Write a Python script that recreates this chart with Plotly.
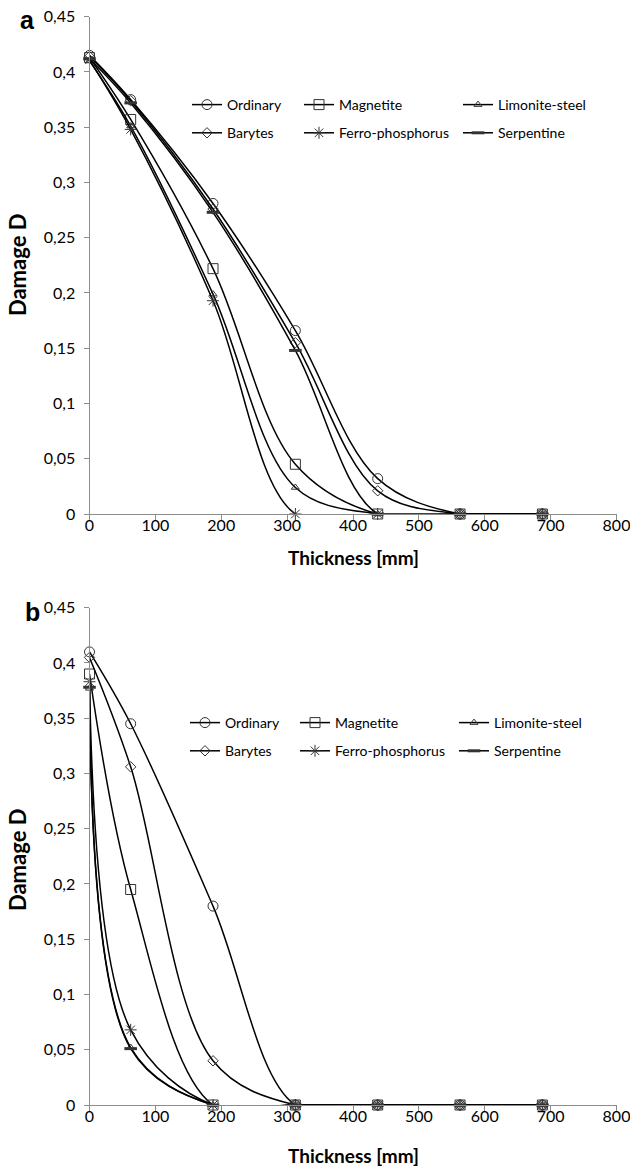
import plotly.graph_objects as go

# ---------------- data ----------------
thickness = [0, 62.5, 187.5, 312.5, 437.5, 562.5, 687.5]
series_names = ["Ordinary", "Magnetite", "Limonite-steel", "Barytes", "Ferro-phosphorus", "Serpentine"]

# panel a
ordinary_a = [0.415, 0.375, 0.281, 0.166, 0.032, 0, 0]
magnetite_a = [0.413, 0.357, 0.222, 0.045, 0, 0, 0]
limonite_a = [0.410, 0.351, 0.199, 0.024, 0, 0, 0]
barytes_a = [0.414, 0.374, 0.276, 0.155, 0.021, 0, 0]
ferro_a = [0.411, 0.348, 0.193, 0, 0, 0, 0]
serpentine_a = [0.412, 0.372, 0.273, 0.148, 0, 0, 0]

# panel b
ordinary_b = [0.410, 0.345, 0.180, 0, 0, 0, 0]
magnetite_b = [0.390, 0.195, 0, 0, 0, 0, 0]
limonite_b = [0.377, 0.052, 0, 0, 0, 0, 0]
barytes_b = [0.405, 0.306, 0.040, 0, 0, 0, 0]
ferro_b = [0.383, 0.068, 0, 0, 0, 0, 0]
serpentine_b = [0.378, 0.051, 0, 0, 0, 0, 0]

x_ticks = [0, 100, 200, 300, 400, 500, 600, 700, 800]
y_ticks = [0, 0.05, 0.1, 0.15, 0.2, 0.25, 0.3, 0.35, 0.4, 0.45]

# ---------------- style ----------------
W, H = 630, 1167
FONT = "Lato, 'Open Sans', sans-serif"
symbols = {
    "Ordinary": ("circle-open", 10, 1.0),
    "Magnetite": ("square-open", 10, 1.0),
    "Limonite-steel": ("triangle-up-open", 7, 1.0),
    "Barytes": ("diamond-open", 8, 1.0),
    "Ferro-phosphorus": ("asterisk-open", 10, 1.0),
    "Serpentine": ("line-ew-open", 9, 3.0),
}
# legend column for each series (0,1,2)
legend_col = {"Ordinary": 0, "Barytes": 0, "Magnetite": 1, "Ferro-phosphorus": 1,
              "Limonite-steel": 2, "Serpentine": 2}

fig = go.Figure()

panels = [
    ("x", "y", [ordinary_a, magnetite_a, limonite_a, barytes_a, ferro_a, serpentine_a], 0),
    ("x2", "y2", [ordinary_b, magnetite_b, limonite_b, barytes_b, ferro_b, serpentine_b], 3),
]
for xa, ya, vals, leg_off in panels:
    for name, v in zip(series_names, vals):
        sym, sz, lw = symbols[name]
        li = leg_off + legend_col[name] + 1
        legend_id = "legend" if li == 1 else f"legend{li}"
        fig.add_trace(go.Scatter(
            x=thickness, y=v, name=name, xaxis=xa, yaxis=ya,
            mode="lines+markers",
            line=dict(color="black", width=1.5, shape="spline", smoothing=1.0),
            marker=dict(symbol=sym, size=sz, color="#333333", line=dict(color="#333333", width=lw)),
            legend=legend_id, legendgroup=f"{xa}-{name}",
            cliponaxis=False, showlegend=True,
        ))

def px_x(p):
    return p / W

def px_y(p):
    return 1 - p / H

xdom = [px_x(89.5), px_x(616.5)]
ya_dom = [px_y(514), px_y(16.7)]
yb_dom = [px_y(1105), px_y(607.7)]

axis_common = dict(
    showline=True, linecolor="#8c8c8c", linewidth=1,
    ticks="outside", ticklen=5, tickcolor="#8c8c8c", tickwidth=1,
    showgrid=False, zeroline=False, automargin=False,
    tickfont=dict(family=FONT, size=16, color="black"),
    ticklabeloverflow="allow",
)
x_common = dict(domain=xdom, range=[0, 800], tickvals=x_ticks, ticklabelstandoff=-8, **axis_common)
y_common = dict(range=[0, 0.45], tickvals=y_ticks, ticklabelstandoff=5, **axis_common)

fig.update_layout(
    width=W, height=H,
    margin=dict(l=0, r=0, t=0, b=0, autoexpand=False),
    paper_bgcolor="white", plot_bgcolor="white",
    separators=", ",
    font=dict(family=FONT, color="black"),
    xaxis=dict(anchor="y", **x_common),
    yaxis=dict(domain=ya_dom, anchor="x", **y_common),
    xaxis2=dict(anchor="y2", **x_common),
    yaxis2=dict(domain=yb_dom, anchor="x2", **y_common),
)

# legends: one per column, per panel
leg_left_a = [187, 299, 458]
leg_left_b = [185, 295, 454]
leg_top_a = 89
leg_top_b = 707
leg_common = dict(
    orientation="v", xanchor="left", yanchor="top",
    bgcolor="rgba(0,0,0,0)", borderwidth=0,
    font=dict(family=FONT, size=14, color="black"),
    tracegroupgap=7, itemclick=False, itemdoubleclick=False,
)
legends = {}
for i, lx in enumerate(leg_left_a + leg_left_b):
    ly = leg_top_a if i < 3 else leg_top_b
    key = "legend" if i == 0 else f"legend{i + 1}"
    legends[key] = dict(x=px_x(lx), y=px_y(ly), **leg_common)
fig.update_layout(**legends)

# axis titles & panel letters
annots = [
    dict(text="<b>Thickness [mm]</b>", x=px_x(353), y=px_y(557), font=dict(size=19)),
    dict(text="<b>Thickness [mm]</b>", x=px_x(353), y=px_y(1155), font=dict(size=19)),
    dict(text="<b>Damage D</b>", x=px_x(17), y=px_y(265), textangle=-90, font=dict(size=22)),
    dict(text="<b>Damage D</b>", x=px_x(17), y=px_y(860), textangle=-90, font=dict(size=22)),
    dict(text="<b>a</b>", x=px_x(27), y=px_y(20), font=dict(size=25, family="Liberation Sans, Arial, sans-serif")),
    dict(text="<b>b</b>", x=px_x(32), y=px_y(612), font=dict(size=25, family="Liberation Sans, Arial, sans-serif")),
]
for a in annots:
    f = dict(family=FONT, color="black")
    f.update(a.pop("font"))
    fig.add_annotation(xref="paper", yref="paper", showarrow=False,
                       xanchor="center", yanchor="middle", font=f, **a)

fig.write_html("out.html")
